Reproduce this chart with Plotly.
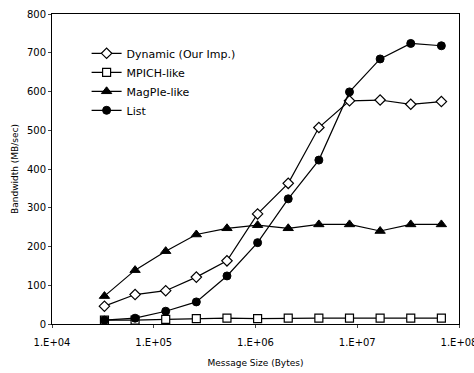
import plotly.graph_objects as go

sizes = [2**k for k in range(15, 27)]
dynamic = [46, 76, 86, 121, 163, 284, 363, 507, 576, 578, 567, 574]
mpich = [10, 10, 12, 14, 15, 14, 15, 15, 15, 15, 15, 15]
magpie = [72, 139, 188, 231, 247, 255, 247, 257, 257, 240, 257, 257]
listv = [10, 15, 33, 57, 124, 210, 323, 423, 599, 684, 724, 718]

names = ["Dynamic (Our Imp.)", "MPICH-like", "MagPIe-like", "List"]
xtick_vals = [1e4, 1e5, 1e6, 1e7, 1e8]
xtick_text = ["1.E+04", "1.E+05", "1.E+06", "1.E+07", "1.E+08"]
ytick_vals = list(range(0, 801, 100))

font_family = "DejaVu Sans"

fig = go.Figure()
styles = [
    (dynamic, dict(symbol="diamond", size=8, color="white", line=dict(color="black", width=1.2))),
    (mpich, dict(symbol="square", size=8, color="white", line=dict(color="black", width=1.2))),
    (magpie, dict(symbol="triangle-up", size=9, color="black", line=dict(color="black", width=1))),
    (listv, dict(symbol="circle", size=8, color="black", line=dict(color="black", width=1))),
]
for name, (vals, mk) in zip(names, styles):
    fig.add_trace(go.Scatter(x=sizes, y=vals, name=name, mode="lines+markers",
                             line=dict(color="black", width=1.2), marker=mk))

fig.update_layout(
    width=474, height=373,
    margin=dict(l=52, r=15, t=14, b=49),
    paper_bgcolor="white", plot_bgcolor="white",
    font=dict(family=font_family, color="black", size=10),
    showlegend=True,
    legend=dict(x=0.085, y=0.92, xanchor="left", yanchor="top",
                bgcolor="rgba(0,0,0,0)", font=dict(size=11, family=font_family),
                tracegroupgap=0, itemwidth=30),
)
fig.update_xaxes(type="log", range=[4, 8], tickvals=xtick_vals, ticktext=xtick_text,
                 showline=True, linecolor="black", linewidth=1, mirror=True,
                 showgrid=False, zeroline=False, ticks="outside", ticklen=3,
                 ticklabelstandoff=6, automargin=False, ticklabeloverflow="allow",
                 tickfont=dict(size=10),
                 title=dict(text="Message Size (Bytes)", font=dict(size=9), standoff=12))
fig.update_yaxes(range=[0, 800], tickvals=ytick_vals,
                 showline=True, linecolor="black", linewidth=1, mirror=True,
                 showgrid=False, zeroline=False, ticks="outside", ticklen=3,
                 automargin=False,
                 tickfont=dict(size=10),
                 title=dict(text="Bandwidth (MB/sec)", font=dict(size=9), standoff=6))

fig.write_html("out.html")
